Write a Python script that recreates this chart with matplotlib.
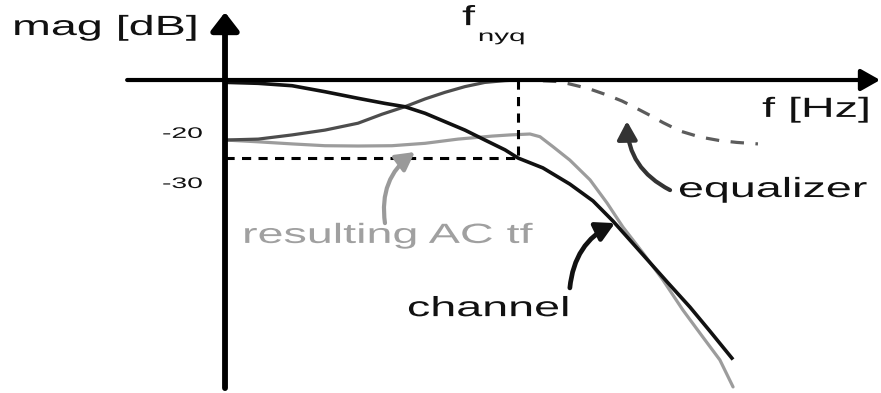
import matplotlib
matplotlib.use("Agg")
import matplotlib.pyplot as plt
from matplotlib.patches import FancyArrowPatch
from matplotlib.patheffects import AbstractPathEffect
from matplotlib.transforms import Affine2D

# Frequency axis is normalised to the Nyquist frequency (f / f_nyq), magnitude in dB.
channel_f = [0.010, 0.113, 0.229, 0.341, 0.454, 0.546, 0.614, 0.683, 0.751, 0.819,
             0.887, 0.956, 1.0, 1.085, 1.177, 1.256, 1.324, 1.427, 1.509, 1.587,
             1.655, 1.730]
channel_db = [-0.8, -1.1, -1.9, -3.9, -6.1, -7.8, -8.9, -11.1, -13.9, -16.7,
              -20.0, -23.3, -26.0, -29.3, -34.7, -40.3, -47.0, -58.3, -67.3, -75.7,
              -83.7, -92.7]

eq_f = [0, 0.113, 0.229, 0.341, 0.454, 0.536, 0.614, 0.683, 0.751, 0.819,
        0.887, 0.956, 1.0]
eq_db = [-20.0, -19.7, -18.3, -16.7, -14.4, -11.4, -8.9, -6.3, -4.1, -2.2,
         -0.8, -0.2, 0.0]

eq_beyond_f = [1.0, 1.075, 1.133, 1.171, 1.239, 1.304, 1.355, 1.392, 1.451, 1.495,
               1.553, 1.621, 1.689, 1.747, 1.819]
eq_beyond_db = [0.0, -0.2, -0.5, -1.2, -2.8, -5.0, -7.0, -8.8, -11.8, -14.2,
                -17.0, -19.0, -20.2, -20.8, -21.3]

result_f = [0, 0.113, 0.229, 0.341, 0.454, 0.570, 0.683, 0.795, 0.911, 0.973,
            1.041, 1.075, 1.119, 1.177, 1.246, 1.304, 1.358, 1.427, 1.495, 1.563,
            1.631, 1.689, 1.734]
result_db = [-20.0, -20.6, -21.3, -21.9, -22.0, -21.9, -21.1, -19.7, -18.7, -18.3,
             -18.0, -18.9, -22.2, -26.7, -33.3, -41.0, -49.0, -57.7, -66.7, -76.7,
             -85.7, -93.3, -102.3]

f_nyq = 1.0
channel_at_nyq = -26.0


class WideGlyphs(AbstractPathEffect):
    """Draw text glyphs stretched horizontally about their left baseline point."""

    def __init__(self, sx):
        super().__init__()
        self.sx = sx

    def draw_path(self, renderer, gc, tpath, affine, rgbFace=None):
        x0 = affine.get_matrix()[0, 2]
        stretch = Affine2D().translate(-x0, 0).scale(self.sx, 1).translate(x0, 0)
        renderer.draw_path(gc, tpath, affine + stretch, rgbFace)


plt.rcParams["font.family"] = ["Liberation Sans", "DejaVu Sans"]

fig = plt.figure(figsize=(8.81, 3.93), dpi=100)
ax = fig.add_axes([0, 0, 1, 1])
ax.set_xlim(-0.768, 2.239)
ax.set_ylim(-104.33, 26.67)
ax.axis("off")

# axes with arrow heads
ax.add_patch(FancyArrowPatch((0, -102.7), (0, 22.6), arrowstyle="-|>,head_length=1.1,head_width=0.85",
                             mutation_scale=10, lw=4.2, color="black", shrinkA=0, shrinkB=0,
                             zorder=5))
ax.add_patch(FancyArrowPatch((-0.334, 0), (2.236, 0), arrowstyle="-|>,head_length=1.15,head_width=0.65",
                             mutation_scale=10, lw=3.0, color="black", shrinkA=0, shrinkB=0,
                             zorder=5))

# dashed guides at the Nyquist frequency
ax.plot([0, f_nyq], [channel_at_nyq, channel_at_nyq], color="black", lw=2.2,
        linestyle=(0, (3.0, 2.4)), zorder=3)
ax.plot([f_nyq, f_nyq], [0, channel_at_nyq], color="black", lw=2.2,
        linestyle=(0, (3.0, 2.4)), zorder=3)

# curves
ax.plot(result_f, result_db, color="#9c9c9c", lw=2.3, solid_joinstyle="round",
        solid_capstyle="round", zorder=2)
ax.plot(eq_f, eq_db, color="#4d4d4d", lw=2.3, solid_joinstyle="round", zorder=3)
ax.plot(eq_beyond_f, eq_beyond_db, color="#5c5c5c", lw=2.3,
        linestyle=(0, (4.2, 3.6)), zorder=3)
ax.plot(channel_f, channel_db, color="#111111", lw=2.6, solid_joinstyle="round", zorder=4)

# curved pointers from labels to curves
pointer_style = "-|>,head_length=1.1,head_width=0.6"
ax.add_patch(FancyArrowPatch((0.546, -47.7), (0.648, -24.0), arrowstyle=pointer_style,
                             connectionstyle="arc3,rad=-0.3", mutation_scale=10, lw=3.0,
                             color="#9a9a9a", shrinkA=0, shrinkB=0, zorder=4))
ax.add_patch(FancyArrowPatch((1.177, -69.3), (1.331, -47.7), arrowstyle=pointer_style,
                             connectionstyle="arc3,rad=-0.28", mutation_scale=10, lw=3.4,
                             color="#111111", shrinkA=0, shrinkB=0, zorder=5))
ax.add_patch(FancyArrowPatch((1.519, -36.7), (1.372, -13.7), arrowstyle=pointer_style,
                             connectionstyle="arc3,rad=-0.3", mutation_scale=10, lw=3.0,
                             color="#333333", shrinkA=0, shrinkB=0, zorder=4))

big = [WideGlyphs(1.68)]
small = [WideGlyphs(1.85)]


def label(x, y, s, size, effect, color="#111111"):
    ax.text(x, y, s, fontsize=size, color=color, ha="left", va="baseline",
            path_effects=effect, zorder=6)


label(-0.727, 15.0, "mag [dB]", 20, big)
label(0.809, 18.3, "f", 20, big)
label(0.863, 13.0, "nyq", 11.5, small)
label(1.833, -12.3, "f [Hz]", 20, big)
label(-0.215, -19.3, "-20", 11, small)
label(-0.215, -36.0, "-30", 11, small)
label(1.546, -39.0, "equalizer", 20, big)
label(0.058, -54.3, "resulting AC tf", 20, big, color="#a0a0a0")
label(0.621, -78.7, "channel", 20, big)

fig.savefig("out.png", dpi=100)
